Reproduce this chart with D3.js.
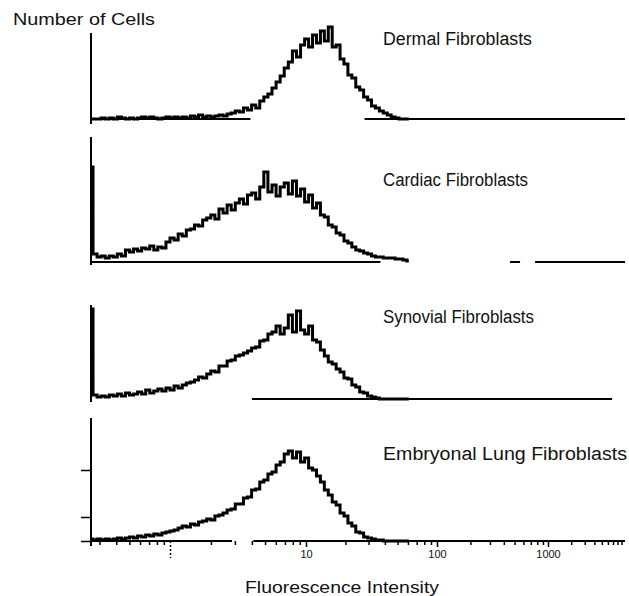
<!DOCTYPE html>
<html>
<head>
<meta charset="utf-8">
<script src="https://cdn.jsdelivr.net/npm/d3@7"></script>
<style>
  body { margin: 0; background: #fff; }
  text { font-family: "Liberation Sans", Arial, sans-serif; fill: #111; }
</style>
</head>
<body>
<div id="chart"></div>
<script>
// bin centres of the histograms, log10 of fluorescence intensity
const binLog = d3.range(80).map(i => -0.585 + 0.03 * i);

// counts per bin
const dermal = [0,0,0,1,0,1,0,2,1,0, 1,0,1,2,1,2,1,0,1,2,
                1,2,1,2,1,3,2,4,2,3, 2,3,4,3,5,6,8,7,11,9,
                14,11,18,22,25,31,37,43,51,57, 68,62,74,80,72,84,76,88,78,92,
                72,74,60,55,44,41,32,29,22,19, 13,11,8,6,4,2,1,0,0,0];
const cardiac = [95,8,5,6,4,6,5,8,6,12, 10,13,11,14,13,16,12,15,14,20,
                 24,22,28,26,32,33,37,36,42,44, 47,43,53,49,57,52,59,63,58,67,
                 69,63,75,90,70,77,66,75,79,68, 81,66,73,60,67,54,59,47,45,37,
                 35,29,27,21,19,15,12,11,9,8, 6,5,5,4,4,4,3,3,2,1];
const synovial = [90,4,2,3,2,4,3,5,3,6, 4,5,7,5,9,6,8,10,8,11,
                  9,13,11,14,16,17,19,22,21,25, 28,27,33,33,38,39,43,44,46,48,
                  51,52,58,59,65,67,73,65,71,84, 67,88,69,65,73,59,57,49,43,37,
                  35,30,27,21,20,14,12,7,6,3, 2,1,0,0,0,0,0,0,0,0];
const lung = [2,1,2,1,2,1,2,3,2,3, 4,3,5,4,6,5,7,6,8,9,
              10,11,13,15,14,17,16,19,20,22, 21,25,26,28,31,32,37,37,43,44,
              51,52,59,61,67,69,76,79,87,90, 83,89,79,83,73,71,65,59,51,46,
              39,36,28,25,18,15,9,8,4,3, 2,1,1,0,0,0,0,0,0,0];

const names = ["Dermal Fibroblasts", "Cardiac Fibroblasts", "Synovial Fibroblasts", "Embryonal Lung Fibroblasts"];

// the parts of each baseline that are still visible in the scan (intensity units)
const baseDermal = [[0.26, 3.9], [28, 10000]];
const baseCardiac = [[0.26, 37], [455, 560], [765, 10000]];
const baseSynovial = [[4.0, 6800]];
const baseLung = [[0.26, 2.86], [4.1, 10000]];

const xLabels = [10, 100, 1000];
const lungTicks = [0, 24, 71];

const width = 629, height = 596;

const svg = d3.select("#chart")
    .append("svg")
    .attr("width", width)
    .attr("height", height);

// the scanned axis is not evenly spaced, so the log scale is piecewise
const x = d3.scaleLog()
    .domain([0.26, 1, 10, 100, 1000, 10000])
    .range([91, 170, 306, 437, 548, 625]);

const panels = [
    { counts: dermal,   base: baseDermal,   y0: 119, top: 33,  bottom: 124, labelY: 45,  labelW: 149 },
    { counts: cardiac,  base: baseCardiac,  y0: 262, top: 137, bottom: 265, labelY: 186, labelW: 145 },
    { counts: synovial, base: baseSynovial, y0: 399, top: 305, bottom: 402, labelY: 323, labelW: 151 },
    { counts: lung,     base: baseLung,     y0: 541, top: 418, bottom: 546, labelY: 460, labelW: 244 }
];

panels.forEach((p, k) => {
    const y = d3.scaleLinear()
        .domain([0, p.y0 - p.top])
        .range([p.y0, p.top]);

    // y axis line
    svg.append("line")
        .attr("x1", x(0.26)).attr("x2", x(0.26))
        .attr("y1", p.top).attr("y2", p.bottom)
        .attr("stroke", "#000")
        .attr("stroke-width", 2);

    // baseline pieces
    svg.selectAll(null)
        .data(p.base)
        .join("line")
        .attr("x1", d => x(d[0]))
        .attr("x2", d => x(d[1]))
        .attr("y1", y(0)).attr("y2", y(0))
        .attr("stroke", "#000")
        .attr("stroke-width", 2);

    // histogram
    const line = d3.line()
        .x((d, i) => x(Math.pow(10, binLog[i])))
        .y(d => y(d))
        .curve(d3.curveStep);

    svg.append("path")
        .datum(p.counts)
        .attr("d", line)
        .attr("fill", "none")
        .attr("stroke", "#000")
        .attr("stroke-width", 3);

    svg.append("text")
        .attr("x", 383)
        .attr("y", p.labelY)
        .attr("textLength", p.labelW)
        .attr("lengthAdjust", "spacingAndGlyphs")
        .style("font-size", "18px")
        .text(names[k]);

    if (k == 3) {
        svg.append("g")
            .attr("transform", "translate(" + x(0.26) + ",0)")
            .call(d3.axisLeft(y).tickValues(lungTicks).tickSize(10).tickFormat(""))
            .call(g => g.select(".domain").remove())
            .selectAll("line").attr("stroke-width", 1.5);
    }
});

// x axis below the last panel
const xAxisY = panels[3].y0;
const minor = x.ticks().filter(t => ![1, 10, 100, 1000, 10000].includes(t));

svg.append("g")
    .attr("transform", "translate(0," + xAxisY + ")")
    .call(d3.axisBottom(x).tickValues(minor).tickSize(4).tickFormat(""))
    .call(g => g.select(".domain").remove())
    .selectAll("line").attr("stroke-width", 1.5);

svg.append("g")
    .attr("transform", "translate(0," + xAxisY + ")")
    .call(d3.axisBottom(x).tickValues(xLabels).tickSize(6).tickFormat(d3.format("d")))
    .call(g => g.select(".domain").remove())
    .call(g => g.selectAll("line").attr("stroke-width", 1.5))
    .call(g => g.selectAll("text")
        .attr("y", 9)
        .style("font-size", "11px")
        .style("font-family", "'Liberation Sans', Arial, sans-serif")
        .attr("fill", "#333"));

// tall dashed tick at intensity 1
svg.append("g")
    .attr("transform", "translate(0," + xAxisY + ")")
    .call(d3.axisBottom(x).tickValues([1]).tickSize(17).tickFormat(""))
    .call(g => g.select(".domain").remove())
    .selectAll("line").attr("stroke-width", 1.5).attr("stroke-dasharray", "2,2");

svg.append("text")
    .attr("x", 13)
    .attr("y", 25)
    .attr("textLength", 142)
    .attr("lengthAdjust", "spacingAndGlyphs")
    .style("font-size", "17px")
    .text("Number of Cells");

svg.append("text")
    .attr("x", 342)
    .attr("y", 593)
    .attr("text-anchor", "middle")
    .attr("textLength", 194)
    .attr("lengthAdjust", "spacingAndGlyphs")
    .style("font-size", "17px")
    .text("Fluorescence Intensity");
</script>
</body>
</html>
